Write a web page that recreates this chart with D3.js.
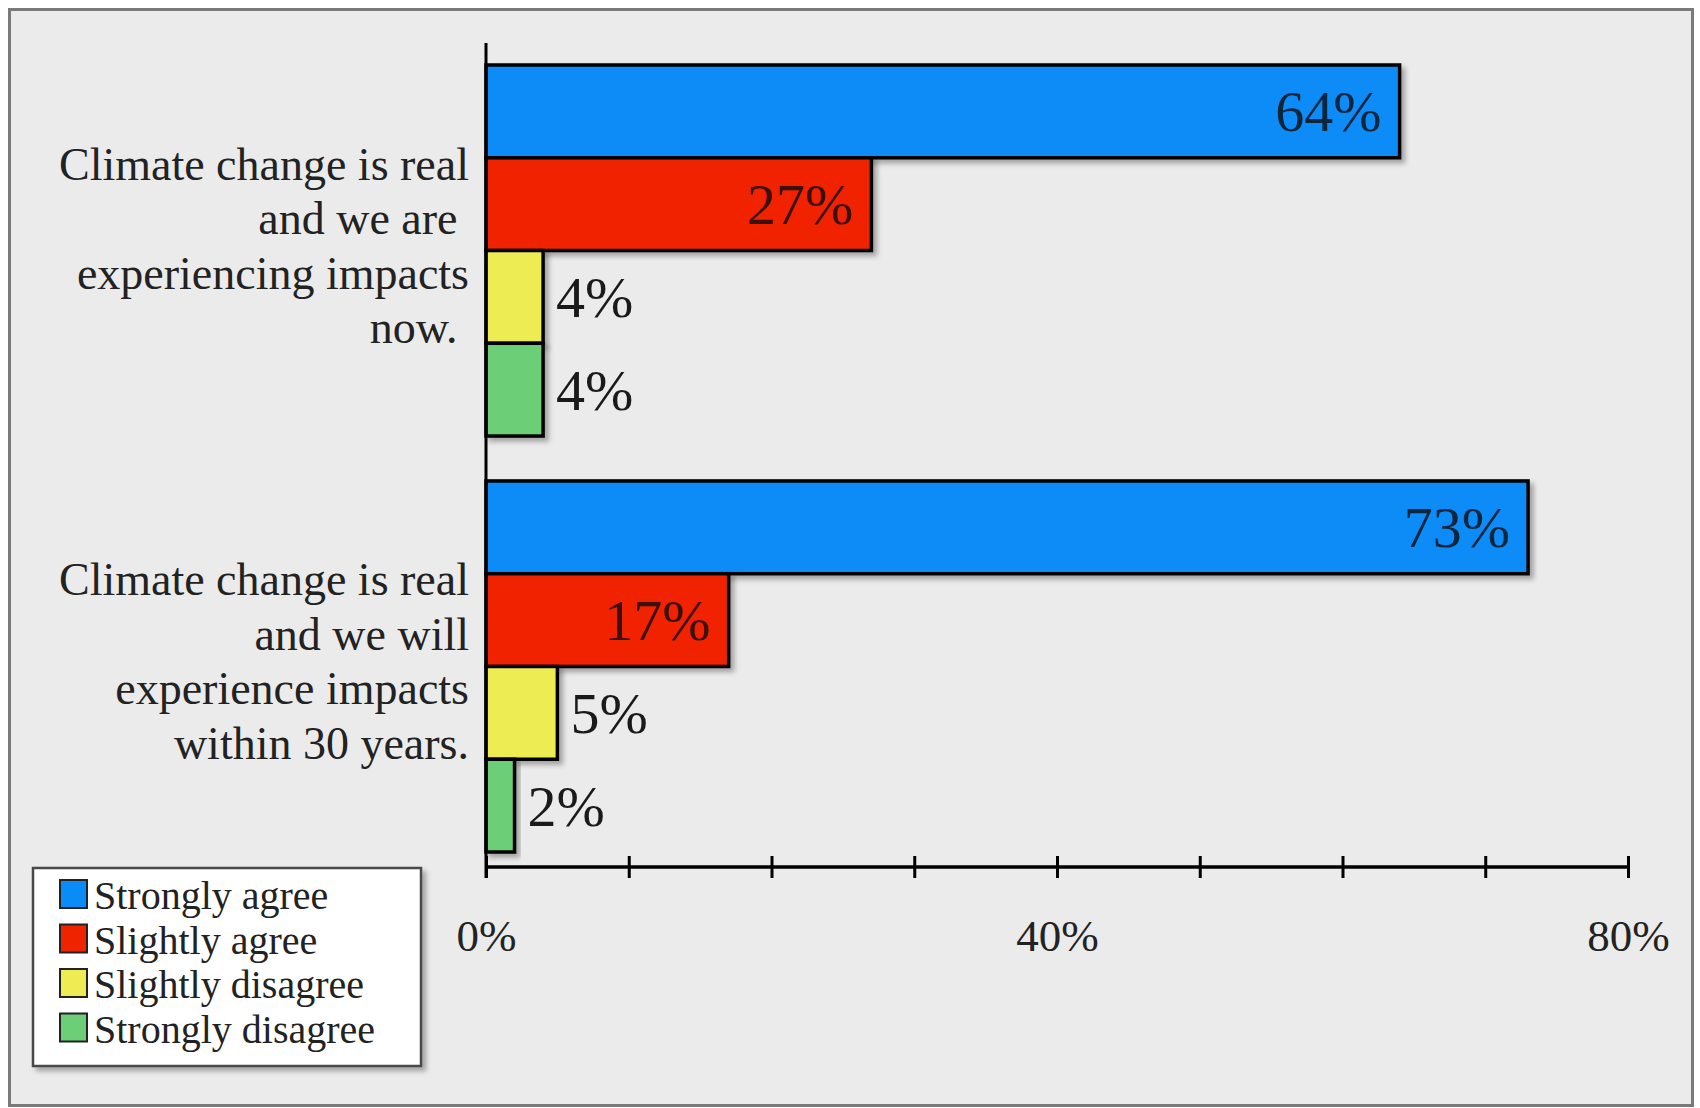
<!DOCTYPE html>
<html>
<head>
<meta charset="utf-8">
<script src="https://cdn.jsdelivr.net/npm/d3@7"></script>
<style>
  html, body { margin: 0; padding: 0; background: #ffffff; }
  svg { display: block; }
  text { font-family: "Liberation Serif", "Times New Roman", serif; }
  .category tspan { white-space: pre; }
</style>
</head>
<body>
<svg id="chart" width="1700" height="1108"></svg>
<script>
// Survey statements (each split into display lines)
const statements = ["now", "future"];
const statementLines = [
  ["Climate change is real", "and we are ", "experiencing impacts", "now. "],
  ["Climate change is real", "and we will", "experience impacts", "within 30 years."]
];

// Response categories and their colours
const responses = ["Strongly agree", "Slightly agree", "Slightly disagree", "Strongly disagree"];
const responseColors = ["#0a8cf8", "#f02300", "#eeec52", "#6ccf78"];

// Percentages per statement, in the order of `responses`
const nowValues = [64, 27, 4, 4];
const futureValues = [73, 17, 5, 2];

// Axis ticks and labelled ticks
const tickValues = [0, 10, 20, 30, 40, 50, 60, 70, 80];
const labelledTicks = [0, 40, 80];

const valuesByStatement = [nowValues, futureValues];

const svg = d3.select("#chart");

const defs = svg.append("defs");
const shadow = defs.append("filter").attr("id", "shadow")
  .attr("x", "-10%").attr("y", "-10%").attr("width", "130%").attr("height", "140%");
shadow.append("feDropShadow")
  .attr("dx", 4).attr("dy", 4).attr("stdDeviation", 2.5)
  .attr("flood-color", "#000").attr("flood-opacity", 0.3);

// Outer panel
svg.append("rect")
  .attr("x", 9.5).attr("y", 9.5)
  .attr("width", 1683).attr("height", 1096)
  .attr("fill", "#ebebeb")
  .attr("stroke", "#7a7a7a").attr("stroke-width", 3);

const x = d3.scaleLinear().domain([0, 80]).range([486, 1628]);

const yGroup = d3.scaleBand()
  .domain(statements)
  .range([65, 852])
  .paddingInner(0.108)
  .paddingOuter(0);

const yBar = d3.scaleBand()
  .domain(responses)
  .range([0, yGroup.bandwidth()])
  .padding(0);

// Bars
const groups = svg.selectAll("g.group")
  .data(statements)
  .join("g")
  .attr("class", "group")
  .attr("transform", d => `translate(0,${yGroup(d)})`);

groups.each(function(stmt, gi) {
  const g = d3.select(this);
  const rows = responses.map((r, i) => ({ response: r, value: valuesByStatement[gi][i], color: responseColors[i] }));

  g.selectAll("rect.bar")
    .data(rows)
    .join("rect")
    .attr("class", "bar")
    .attr("x", x(0))
    .attr("y", d => yBar(d.response))
    .attr("width", d => x(d.value) - x(0))
    .attr("height", yBar.bandwidth())
    .attr("fill", d => d.color)
    .attr("stroke", "#000")
    .attr("stroke-width", 3.5)
    .attr("filter", "url(#shadow)");

  g.selectAll("text.value")
    .data(rows)
    .join("text")
    .attr("class", "value")
    .attr("x", d => d.value >= 10 ? x(d.value) - 18 : x(d.value) + 13)
    .attr("y", d => yBar(d.response) + yBar.bandwidth() / 2 + 20)
    .attr("text-anchor", d => d.value >= 10 ? "end" : "start")
    .attr("font-size", 58)
    .attr("fill", d => d.value >= 10 ? "#0d0d0d" : "#1a1a1a")
    .attr("fill-opacity", d => d.value >= 10 ? 0.8 : 1)
    .text(d => d.value + "%");

  // Statement label, right-aligned against the axis
  const center = yGroup.bandwidth() / 2;
  g.append("text")
    .attr("class", "category")
    .attr("text-anchor", "end")
    .attr("font-size", 46)
    .attr("fill", "#222")
    .selectAll("tspan")
    .data(statementLines[gi])
    .join("tspan")
    .attr("x", 469)
    .attr("y", (d, i) => center - 71 + i * 54.5)
    .text(d => d);
});

// Vertical axis line
svg.append("line")
  .attr("x1", x(0)).attr("x2", x(0))
  .attr("y1", 43).attr("y2", 878)
  .attr("stroke", "#000").attr("stroke-width", 3);

// Horizontal value axis
const xAxis = d3.axisBottom(x)
  .tickValues(tickValues)
  .tickSize(10)
  .tickFormat(d => labelledTicks.includes(d) ? d + "%" : "");

const axisG = svg.append("g")
  .attr("transform", "translate(0,867)")
  .call(xAxis);

axisG.select(".domain")
  .attr("d", `M${x(0)},0H${x(80)}`)
  .attr("stroke", "#000").attr("stroke-width", 3.5);
axisG.selectAll(".tick line")
  .attr("y1", -11).attr("y2", 11)
  .attr("stroke", "#000").attr("stroke-width", 3);
axisG.selectAll(".tick text")
  .attr("y", 84).attr("dy", 0)
  .attr("font-size", 45)
  .attr("font-family", "'Liberation Serif', 'Times New Roman', serif")
  .attr("fill", "#222");

// Legend
const legend = svg.append("g").attr("transform", "translate(33,868)");
legend.append("rect")
  .attr("width", 388).attr("height", 198)
  .attr("fill", "#ffffff")
  .attr("stroke", "#4a4a4a").attr("stroke-width", 2.5)
  .attr("filter", "url(#shadow)");

const legendRow = d3.scaleBand()
  .domain(responses)
  .range([4, 182])
  .padding(0);

const items = legend.selectAll("g.item")
  .data(responses)
  .join("g")
  .attr("class", "item")
  .attr("transform", d => `translate(0,${legendRow(d)})`);

items.append("rect")
  .attr("x", 27).attr("y", 8)
  .attr("width", 27).attr("height", 28)
  .attr("fill", (d, i) => responseColors[i])
  .attr("stroke", "#222").attr("stroke-width", 2);

items.append("text")
  .attr("x", 61).attr("y", 37)
  .attr("font-size", 40)
  .attr("fill", "#222")
  .text(d => d);
</script>
</body>
</html>
